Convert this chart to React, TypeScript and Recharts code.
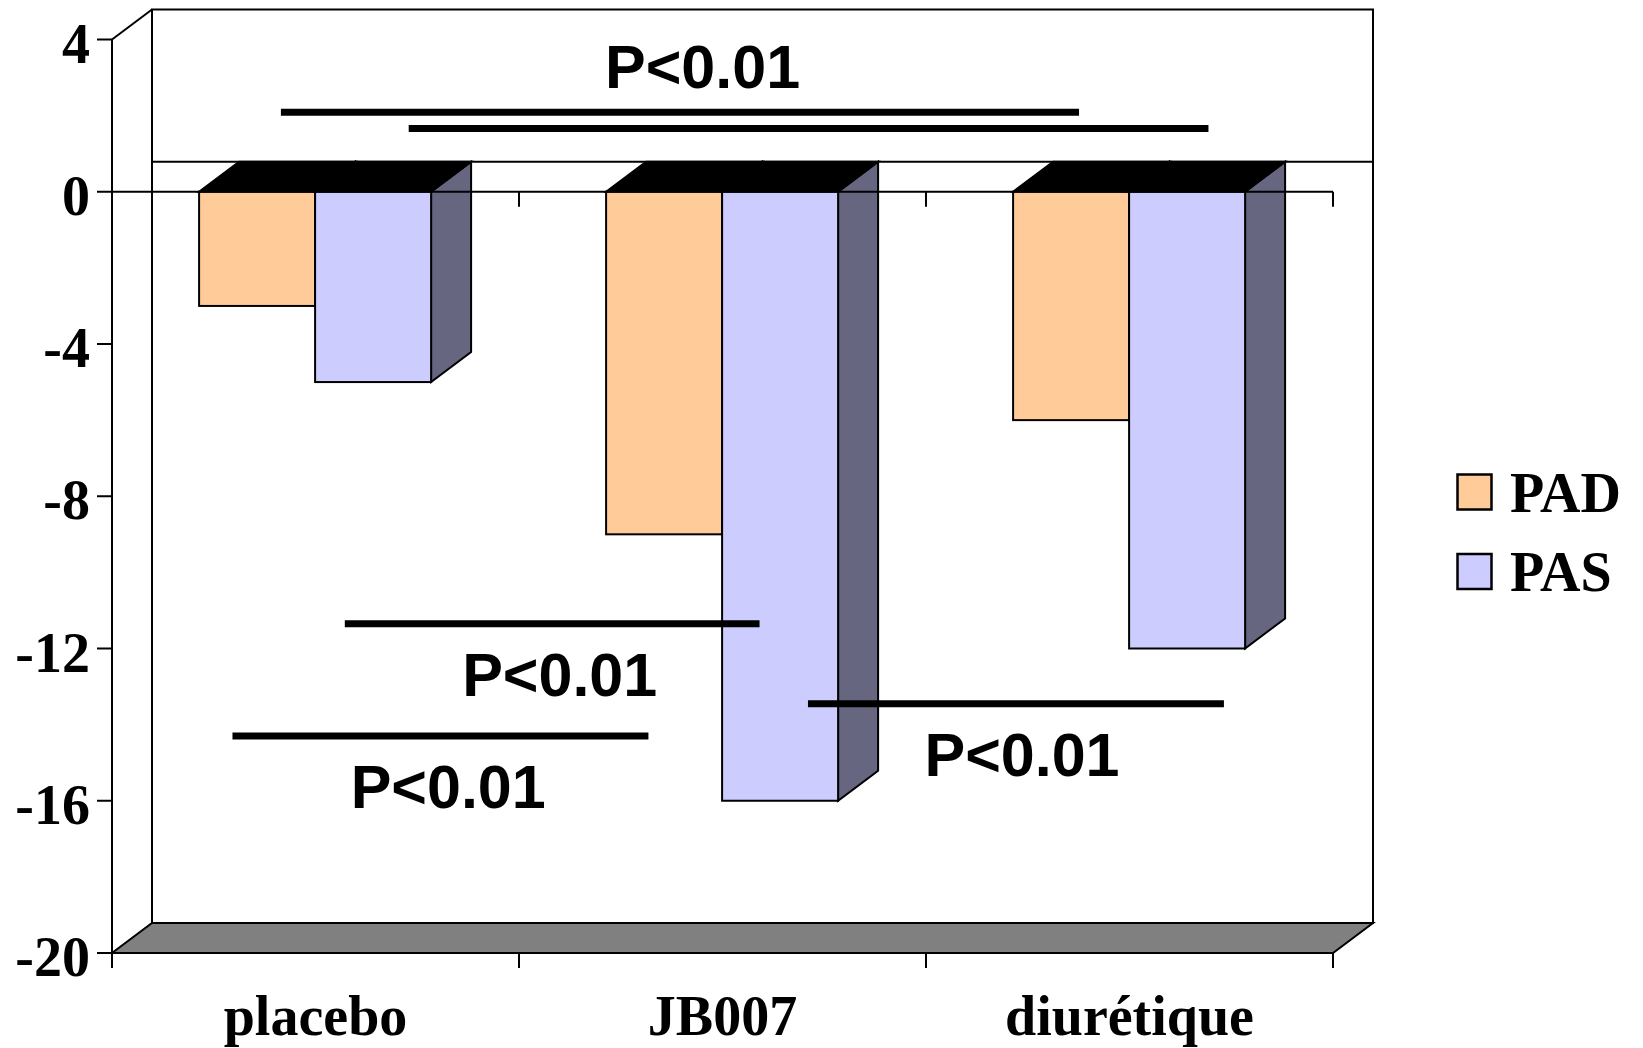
import React from 'react';
import {
    BarChart,
    Bar,
    XAxis,
    YAxis,
    Legend,
    ReferenceArea,
    ReferenceLine,
    ReferenceDot,
} from 'recharts';

// valeurs
const categories = ['placebo', 'JB007', 'diurétique'];
const padValues = [-3, -9, -6];
const pasValues = [-5, -16, -12];
const yTicks = [4, 0, -4, -8, -12, -16, -20];
const boundaryTicks = [0, 1, 2, 3];

// barres de significativité (axe numérique caché 0..3)
const sigStart = [0.415, 0.729, 0.572, 0.296, 1.71];
const sigEnd = [2.376, 2.694, 1.591, 1.318, 2.732];
const sigLevel = [2.09, 1.66, -11.35, -14.3, -13.45];

const pText = ['P<0.01', 'P<0.01', 'P<0.01', 'P<0.01'];
const pX = [1.451, 1.1, 0.826, 2.236];
const pY = [2.72, -13.25, -16.18, -15.35];

const data = categories.map((name, i) => ({
    name,
    pos: i + 0.5,
    PAD: padValues[i],
    PAS: pasValues[i],
}));

const DX = 40;
const DY = 30;
const TICK = 0.394;
const SERIF = "'Liberation Serif', 'Times New Roman', serif";
const SANS = "'Liberation Sans', Arial, sans-serif";

const Bar3D = (props: any) => {
    const { x, y, width, height, fill } = props;
    const top = Math.min(y, y + height);
    const h = Math.abs(height);
    const r = x + width;
    return (
        <g>
            <polygon
                points={`${r},${top} ${r + DX},${top - DY} ${r + DX},${top + h - DY} ${r},${top + h}`}
                fill="#666680"
                stroke="#000"
                strokeWidth={2}
            />
            <polygon
                points={`${x},${top} ${r},${top} ${r + DX},${top - DY} ${x + DX},${top - DY}`}
                fill="#000"
                stroke="#000"
                strokeWidth={2}
            />
            <rect x={x} y={top} width={width} height={h} fill={fill} stroke="#000" strokeWidth={2} />
        </g>
    );
};

const Walls = (props: any) => {
    const { x, y, width, height } = props;
    const b = y + height;
    return (
        <g>
            <rect x={x + DX} y={y - DY} width={width} height={height} fill="#fff" stroke="#000" strokeWidth={2} />
            <polygon
                points={`${x},${b} ${x + width},${b} ${x + width + DX},${b - DY} ${x + DX},${b - DY}`}
                fill="#808080"
                stroke="#000"
                strokeWidth={2}
            />
            <line x1={x} y1={y} x2={x + DX} y2={y - DY} stroke="#000" strokeWidth={2} />
        </g>
    );
};

// ligne du zéro sur le mur du fond
const BackZero = (props: any) => {
    const { x, y, width, height } = props;
    const yy = y + height - DY;
    return <line x1={x + DX} y1={yy} x2={x + width + DX} y2={yy} stroke="#000" strokeWidth={2} />;
};

const YTick = ({ x, y, payload }: any) => (
    <text x={x} y={y + 23} textAnchor="end" fontFamily={SERIF} fontWeight="bold" fontSize={56} fill="#000">
        {payload.value}
    </text>
);

const XTick = ({ x, y, payload }: any) => (
    <text x={x} y={y + 82} textAnchor="middle" fontFamily={SERIF} fontWeight="bold" fontSize={56} fill="#000">
        {payload.value}
    </text>
);

const renderLegend = (props: any) => {
    const { payload = [] } = props;
    return (
        <svg width={200} height={140} style={{ display: 'block', overflow: 'visible' }}>
            {payload.map((entry: any, i: number) => (
                <g key={entry.value}>
                    <rect
                        x={17.5}
                        y={14.5 + i * 79.5}
                        width={34}
                        height={35}
                        fill={entry.color}
                        stroke="#000"
                        strokeWidth={2.5}
                    />
                    <text
                        x={70}
                        y={51.5 + i * 79.5}
                        fontFamily={SERIF}
                        fontWeight="bold"
                        fontSize={56}
                        fill="#000"
                    >
                        {entry.value}
                    </text>
                </g>
            ))}
        </svg>
    );
};

export default function App() {
    return (
        <div style={{ position: 'absolute', left: 0, top: 0, background: '#fff' }}>
            <BarChart
                width={1643}
                height={1048}
                data={data}
                margin={{ top: 39.5, right: 110, left: 0, bottom: 0 }}
                barCategoryGap="21.4%"
                barGap={0}
            >
                <XAxis
                    xAxisId="cat"
                    dataKey="name"
                    height={95}
                    axisLine={false}
                    tickLine={false}
                    tickSize={0}
                    tickMargin={0}
                    tick={<XTick />}
                    interval={0}
                />
                <XAxis
                    xAxisId="num"
                    dataKey="pos"
                    type="number"
                    scale="linear"
                    domain={[0, 3]}
                    ticks={boundaryTicks}
                    allowDataOverflow
                    hide
                />
                <YAxis
                    type="number"
                    domain={[-20, 4]}
                    ticks={yTicks}
                    interval={0}
                    width={112}
                    tickSize={15}
                    tickMargin={7}
                    axisLine={{ stroke: '#000', strokeWidth: 2 }}
                    tickLine={{ stroke: '#000', strokeWidth: 2 }}
                    tick={<YTick />}
                />

                {/* murs et sol 3D */}
                <ReferenceArea xAxisId="num" x1={0} x2={3} y1={-20} y2={4} ifOverflow="visible" shape={<Walls />} />
                <ReferenceArea xAxisId="num" x1={0} x2={3} y1={0} y2={4} ifOverflow="visible" shape={<BackZero />} />

                <Bar xAxisId="cat" dataKey="PAD" name="PAD" fill="#FFCC99" shape={<Bar3D />} isAnimationActive={false} />
                <Bar xAxisId="cat" dataKey="PAS" name="PAS" fill="#CCCCFF" shape={<Bar3D />} isAnimationActive={false} />

                {/* axe des catégories au niveau zéro */}
                <ReferenceLine xAxisId="num" y={0} stroke="#000" strokeWidth={2} ifOverflow="visible" />
                {boundaryTicks.map((k) => (
                    <ReferenceLine
                        key={`t0-${k}`}
                        xAxisId="num"
                        segment={[{ x: k, y: 0 }, { x: k, y: -TICK }]}
                        stroke="#000"
                        strokeWidth={2}
                        ifOverflow="visible"
                    />
                ))}
                {boundaryTicks.map((k) => (
                    <ReferenceLine
                        key={`tb-${k}`}
                        xAxisId="num"
                        segment={[{ x: k, y: -20 }, { x: k, y: -20 - TICK }]}
                        stroke="#000"
                        strokeWidth={2}
                        ifOverflow="visible"
                    />
                ))}

                {/* barres de significativité */}
                {sigStart.map((s, i) => (
                    <ReferenceLine
                        key={`sig-${i}`}
                        xAxisId="num"
                        segment={[{ x: s, y: sigLevel[i] }, { x: sigEnd[i], y: sigLevel[i] }]}
                        stroke="#000"
                        strokeWidth={7}
                        ifOverflow="visible"
                    />
                ))}
                {pText.map((t, i) => (
                    <ReferenceDot
                        key={`p-${i}`}
                        xAxisId="num"
                        x={pX[i]}
                        y={pY[i]}
                        r={0}
                        ifOverflow="visible"
                        shape={(p: any) => (
                            <text
                                x={p.cx}
                                y={p.cy}
                                textAnchor="middle"
                                fontFamily={SANS}
                                fontWeight="bold"
                                fontSize={61}
                                fill="#000"
                            >
                                {t}
                            </text>
                        )}
                    />
                ))}

                <Legend
                    verticalAlign="middle"
                    align="right"
                    layout="horizontal"
                    content={renderLegend}
                    wrapperStyle={{ left: 1440, top: 460, width: 200, height: 140 }}
                />
            </BarChart>
        </div>
    );
}
